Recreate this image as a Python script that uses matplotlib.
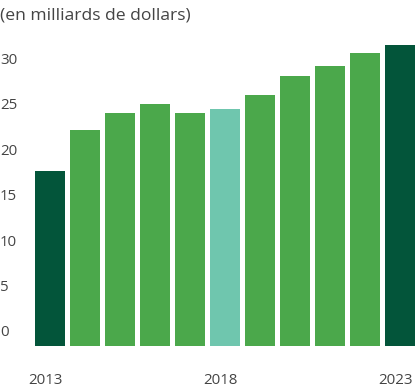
import matplotlib.pyplot as plt
import matplotlib.transforms as mtransforms

plt.rcParams['font.family'] = ['Open Sans', 'DejaVu Sans']

years = ['2013', '2014', '2015', '2016', '2017', '2018', '2019', '2020', '2021', '2022', '2023']
values = [19.3, 23.8, 25.6, 26.6, 25.6, 26.1, 27.6, 29.7, 30.8, 32.2, 33.1]
year_labels = {'2013', '2018', '2023'}
y_ticks = [0, 5, 10, 15, 20, 25, 30]

dark = '#03553A'
green = '#4BA84B'
teal = '#6FC6AE'
colors = [dark] + [green] * 4 + [teal] + [green] * 4 + [dark]

W, H = 415, 392
fig = plt.figure(figsize=(W / 100, H / 100), dpi=100)
# axes: x from 35px to 415px, bottom at 346px
ax = fig.add_axes([35 / W, (H - 346) / H, 380 / W, (346 - 37) / H])

w = 30 / 35
x = list(range(len(years)))
ax.bar(x, values, width=w, color=colors)
ax.set_xlim(-w / 2, len(years) - 1 + w / 2)
ax.set_ylim(0, 34)
ax.axis('off')

# y labels sit a bit above their value line, aligned at the left edge of the figure
trans = mtransforms.blended_transform_factory(fig.transFigure, ax.transData)
off = mtransforms.ScaledTranslation(0, 13 / 100, fig.dpi_scale_trans)
for t in y_ticks:
    ax.text(0.0, t, str(t), transform=trans + off, ha='left', va='center',
            fontsize=10.8, color='#444444')

for i, y in enumerate(years):
    if y in year_labels:
        ax.text(i - 0.12, -3.75, y, ha='center', va='center',
                fontsize=10.8, color='#444444', clip_on=False)

fig.text(0.0, 1 - 16 / H, '(en milliards de dollars)', ha='left', va='center',
         fontsize=12.6, color='#444444')

fig.savefig('out.png', dpi=100)
